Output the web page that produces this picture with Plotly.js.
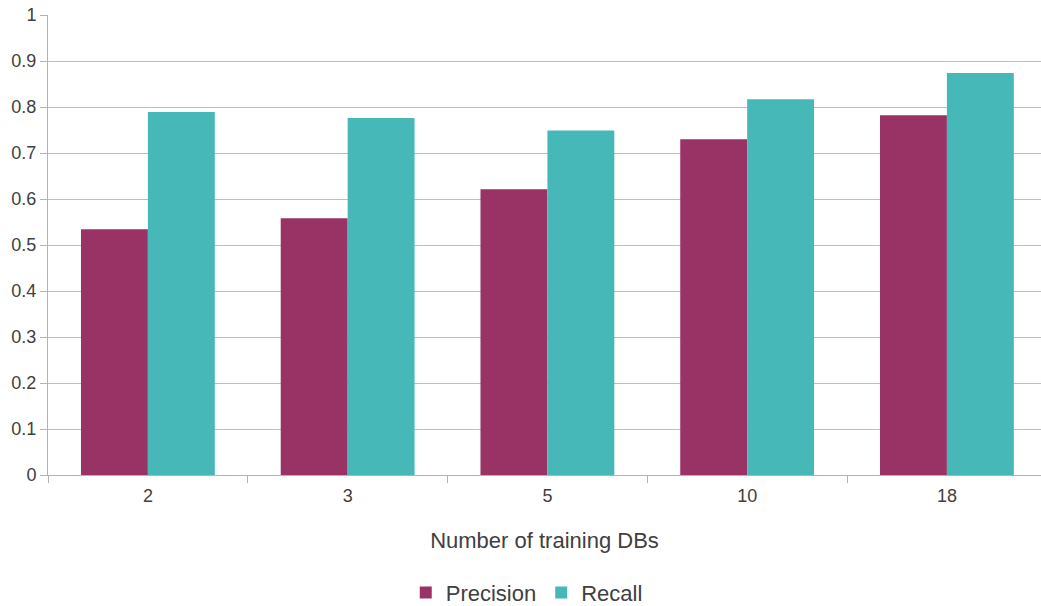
<!DOCTYPE html>
<html>
<head>
<meta charset="utf-8">
<script src="https://cdn.plot.ly/plotly-3.0.1.min.js"></script>
<style>html,body{margin:0;padding:0;background:#fff;}#chart{width:1041px;height:606px;}</style>
</head>
<body>
<div id="chart"></div>
<script>
const categories = ["2", "3", "5", "10", "18"];
const precision = [0.534, 0.558, 0.621, 0.730, 0.782];
const recall = [0.789, 0.776, 0.749, 0.817, 0.874];
const yTickVals = [0, 0.1, 0.2, 0.3, 0.4, 0.5, 0.6, 0.7, 0.8, 0.9, 1];
const yTickText = ["0", "0.1", "0.2", "0.3", "0.4", "0.5", "0.6", "0.7", "0.8", "0.9", "1"];

const font = {family: "Liberation Sans, Arial, sans-serif", color: "#404040"};

const data = [
  {type: "bar", name: "Precision", x: categories, y: precision, marker: {color: "#993366"}},
  {type: "bar", name: "Recall", x: categories, y: recall, marker: {color: "#47B8B8"}}
];

const layout = {
  width: 1041, height: 606,
  margin: {l: 48, r: 0, t: 15, b: 131},
  paper_bgcolor: "#fff", plot_bgcolor: "#fff",
  font: Object.assign({size: 18}, font),
  barmode: "group",
  bargap: 0.33, bargroupgap: 0,
  showlegend: true,
  legend: {orientation: "h", x: 0.506, xanchor: "center", xref: "container", y: 0.022, yref: "container", yanchor: "middle",
    font: Object.assign({size: 22}, font), tracegroupgap: 0},
  xaxis: {
    type: "category", range: [-0.5, 4.471],
    showline: true, linecolor: "#b3b3b3", linewidth: 1,
    ticks: "outside", tickson: "boundaries", ticklen: 7, tickcolor: "#b3b3b3",
    tickfont: Object.assign({size: 18}, font), ticklabelstandoff: 4,
    showgrid: false, zeroline: false,
    title: {text: "Number of training DBs", font: Object.assign({size: 22}, font), standoff: 28},
    automargin: false
  },
  yaxis: {
    range: [0, 1], tickvals: yTickVals, ticktext: yTickText,
    showline: true, linecolor: "#b3b3b3", linewidth: 1,
    ticks: "outside", ticklen: 7, tickcolor: "#b3b3b3",
    showgrid: true, gridcolor: "#bfbfbf", gridwidth: 1,
    zeroline: false,
    tickfont: Object.assign({size: 18}, font),
    automargin: false
  }
};

Plotly.newPlot("chart", data, layout, {displayModeBar: false, staticPlot: true});
</script>
</body>
</html>
